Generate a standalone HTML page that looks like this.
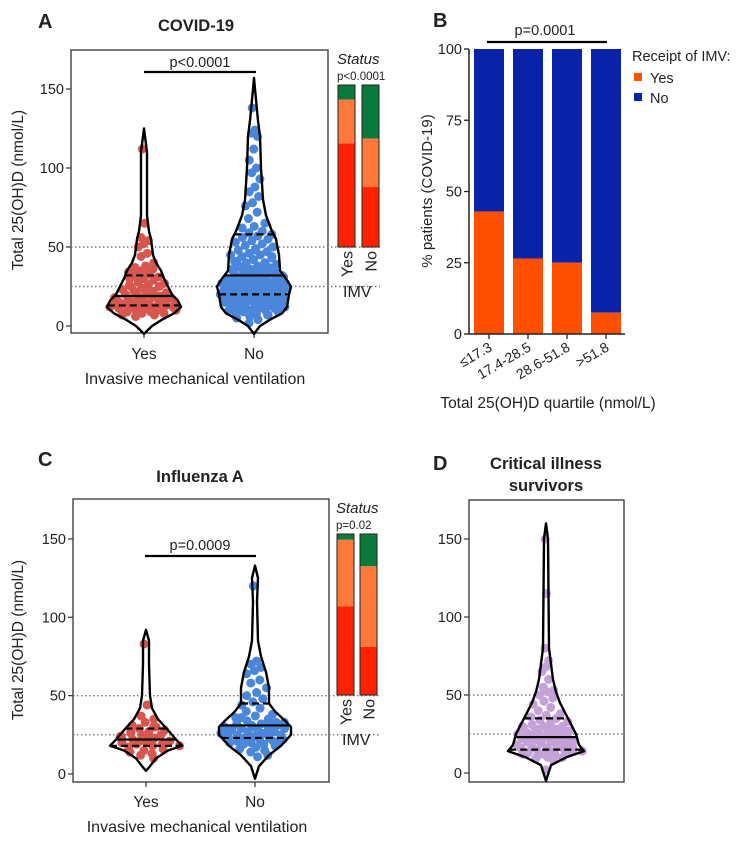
<!DOCTYPE html>
<html><head><meta charset="utf-8"><style>
body{margin:0;background:#fff}
svg{display:block;font-family:"Liberation Sans",Arial,sans-serif}
</style></head><body>
<svg id="fig" width="746" height="853" viewBox="0 0 746 853" xmlns="http://www.w3.org/2000/svg"></svg>
<script>
// ---- data ----
const aYesProfileV=[-5,0,4,8,12,16,20,25,30,35,40,45,50,55,60,70,110,125];
const aYesProfileW=[0,8,18,30,37,34,28,24,20,17,12,9,8,7,5,3,3,0];
const aNoProfileV=[-5,0,4,8,12,20,25,30,35,45,55,60,70,80,100,120,130,150,157];
const aNoProfileW=[0,6,16,28,33,35,37,32,26,25,22,18,12,9,7,6,4,1,0];
const cYesProfileV=[2,5,10,15,18,22,28,35,42,50,70,85,92];
const cYesProfileW=[0,4,10,22,36,30,22,12,6,4,3,3,0];
const cNoProfileV=[-3,5,12,18,25,30,34,40,45,55,65,75,85,110,125,133];
const cNoProfileW=[0,4,14,26,36,36,30,20,14,14,11,6,3,2,3,0];
const dProfileV=[-5,5,10,14,18,25,30,35,45,52,60,70,80,150,160];
const dProfileW=[0,5,20,38,33,30,26,22,14,10,7,5,3,2,0];
const aYesQuart=[13,19,32], aNoQuart=[20,32,58], cYesQuart=[18,22,29], cNoQuart=[23,31,45], dQuart=[15,23,35];
const aYesPts=[112,65,56,54,52,50,46,44,40,38,37,36,35,34,33,32,31,30,30,29,28,27,26,25,25,24,23,22,22,21,20,20,19,19,18,18,17,17,16,16,15,15,15,14,14,13,13,13,12,12,12,11,11,10,10,10,9,9,8,8,7,7,6,18,22,26,14,16,12,11];
const aNoPts=[138,124,122,120,112,105,100,97,93,88,85,82,78,76,72,68,65,63,62,60,59,58,57,56,55,54,53,52,51,50,49,48,47,46,45,45,44,43,42,41,40,40,39,38,38,37,36,36,35,35,34,34,33,33,32,32,31,31,30,30,30,29,29,28,28,28,27,27,27,26,26,26,25,25,25,24,24,24,23,23,23,22,22,22,21,21,21,20,20,20,19,19,19,18,18,18,17,17,17,16,16,16,15,15,15,14,14,14,13,13,12,12,11,11,10,10,10,9,9,8,8,7,6,5,4,2,44,42,36,33,29,27,25,23,21,19,17,15,13,11,48,41,37,34,31,28,26,24,22,20,18,16,14,12,9,7];
const cYesPts=[83,44,37,35,33,31,30,29,28,27,26,25,25,24,23,22,21,20,20,19,19,18,18,17,16,15,14,13,12,10,22,27,30,21,24];
const cNoPts=[120,72,70,68,66,64,60,58,55,52,50,48,46,44,42,40,38,37,36,35,34,33,32,32,31,31,30,30,29,29,28,28,27,27,26,26,25,25,24,24,23,23,22,22,21,21,20,20,19,19,18,17,16,15,14,12,11,36,33,30,28,25,22,20,26,29,31,24];
const dPts=[150,115,80,72,68,65,60,55,53,52,50,48,46,44,42,40,38,37,36,35,34,33,32,31,30,30,29,28,28,27,27,26,26,25,25,24,24,23,23,22,22,21,21,20,20,19,19,18,18,17,17,16,16,15,15,14,14,13,13,12,12,11,11,10,10,9,8,2,30,25,20,15,12,22,18,28];
const aStatusYes=[64,27,9], aStatusNo=[37,30,33], cStatusYes=[55,41.5,3.5], cStatusNo=[30,50,20];
const bCats=['≤17.3','17.4-28.5','28.6-51.8','>51.8'];
const bYes=[43,26.5,25,7.5];
const yTicks=[0,50,100,150];
const bTicks=[0,25,50,75,100];

const NS='http://www.w3.org/2000/svg';
const svg=document.getElementById('fig');
function el(tag,attrs,parent,txt){const e=document.createElementNS(NS,tag);for(const k in attrs)e.setAttribute(k,attrs[k]);if(txt!==undefined)e.textContent=txt;(parent||svg).appendChild(e);return e;}
function interp(vs,ws,v){if(v<=vs[0]||v>=vs[vs.length-1])return 0;for(let i=1;i<vs.length;i++){if(v<=vs[i]){const t=(v-vs[i-1])/(vs[i]-vs[i-1]);return ws[i-1]+t*(ws[i]-ws[i-1]);}}return 0;}

function violinPanel(o){
  const y=v=>o.y0-(v)*o.k;
  const g=el('g',{});
  
  
  const b=el('rect',{x:o.x1,y:o.top,width:o.x2-o.x1,height:o.bot-o.top,fill:'none',stroke:'#333','stroke-width':1.3},g);
  
  [25,50].forEach(v=>{const l=el('line',{x1:o.x1,x2:o.refEnd,y1:y(v),y2:y(v),stroke:'#777','stroke-width':1.4,'stroke-dasharray':'1.5 2.5'},g);
    });
  yTicks.forEach(t=>{el('line',{x1:o.x1-5,x2:o.x1,y1:y(t),y2:y(t),stroke:'#333','stroke-width':1.2},g);
    const tx=el('text',{x:o.x1-7,y:y(t)+5,'text-anchor':'end','font-size':14.5,fill:'#222'},g,String(t));
    });
  o.groups.forEach(gr=>{
    const vs=gr.pv,ws=gr.pw;
    if(gr.tick){el('line',{x1:gr.cx,x2:gr.cx,y1:o.bot,y2:o.bot+5,stroke:'#333','stroke-width':1.2},g);}
    gr.pts.forEach((v,i)=>{const w=Math.max(interp(vs,ws,v)-1,0);const f=((i*0.61803)%1)*2-1;
      const c=el('circle',{cx:gr.cx+f*w,cy:y(v),r:4.5,fill:gr.color},g);
      });
    let d='';const N=vs.length;
    for(let i=0;i<N;i++)d+=(i?'L':'M')+(gr.cx+ws[i])+' '+y(vs[i]);
    for(let i=N-1;i>=0;i--)d+='L'+(gr.cx-ws[i])+' '+y(vs[i]);
    const p=el('path',{d:d+'Z',fill:'none',stroke:'#000','stroke-width':2.4,'stroke-linejoin':'round'},g);
    
    gr.q.forEach((q,i)=>{const w=interp(vs,ws,q);const l=el('line',{x1:gr.cx-w,x2:gr.cx+w,y1:y(q),y2:y(q),stroke:'#000','stroke-width':2.2,'stroke-dasharray':i==1?'none':'7 4'},g);
      });
  });
}

function statusBars(o){
  const cols=['#ff2200','#ff7a3a','#0a7a3c'];
  [o.yes,o.no].forEach((arr,j)=>{let acc=0;const x=o.x[j];
    arr.forEach((p,i)=>{const h=(o.bot-o.top)*p/100;const r=el('rect',{x:x,y:o.bot-acc-h,width:o.w,height:h,fill:cols[i]});
      acc+=h;});
    el('rect',{x:x,y:o.top,width:o.w,height:o.bot-o.top,fill:'none',stroke:'#222','stroke-width':1});
    const t=el('text',{x:0,y:0,'font-size':16,fill:'#222','text-anchor':'end',transform:`translate(${x+o.w/2+6},${o.bot+4}) rotate(-90)`},svg,j?'No':'Yes');
    });
  const s=el('text',{x:o.x[0]-1,y:o.sy,'font-size':15,'font-style':'italic',fill:'#222'},svg,'Status');
  const p=el('text',{x:o.x[0]-1,y:o.sy+16,'font-size':11.5,fill:'#222'},svg,o.p);
  const m=el('text',{x:o.x[0]+5,y:o.iy,'font-size':16,fill:'#222'},svg,'IMV');
}

function txt(x,y,s,attrs,name){const t=el('text',Object.assign({x:x,y:y,fill:'#222'},attrs),svg,s);return t;}

// Panel A
violinPanel({name:'covid',x1:71,x2:328,top:50,bot:333,y0:326,k:1.58,refEnd:380,groups:[
 {cx:144,pv:aYesProfileV,pw:aYesProfileW,pts:aYesPts,q:aYesQuart,color:'#d9564e',tick:1},
 {cx:254,pv:aNoProfileV,pw:aNoProfileW,pts:aNoPts,q:aNoQuart,color:'#4a86da',tick:1}]});
statusBars({x:[338,362],w:17,top:85,bot:247,yes:aStatusYes,no:aStatusNo,sy:64,iy:297,p:'p<0.0001'});
txt(38,28,'A',{'font-size':20,'font-weight':'bold'},'panel-label-a');
txt(196,31,'COVID-19',{'font-size':16.5,'font-weight':'bold','text-anchor':'middle'},'panel-title-a');
el('line',{x1:144,x2:256,y1:72,y2:72,stroke:'#000','stroke-width':2.2});
txt(200,67,'p<0.0001',{'font-size':14.5,'text-anchor':'middle'},'p-value-a');
txt(144,359,'Yes',{'font-size':15.5,'text-anchor':'middle'},'x-tick-yes');
txt(254,359,'No',{'font-size':15.5,'text-anchor':'middle'},'x-tick-no');
txt(195,384,'Invasive mechanical ventilation',{'font-size':16,'text-anchor':'middle'},'x-axis-title-a');
txt(0,0,'Total 25(OH)D (nmol/L)',{'font-size':15.5,'text-anchor':'middle',transform:'translate(23,190) rotate(-90)'},'y-axis-title-a');

// Panel C
violinPanel({name:'influenza',x1:73,x2:329,top:499,bot:782,y0:774,k:1.567,refEnd:380,groups:[
 {cx:146,pv:cYesProfileV,pw:cYesProfileW,pts:cYesPts,q:cYesQuart,color:'#d9564e',tick:1},
 {cx:255,pv:cNoProfileV,pw:cNoProfileW,pts:cNoPts,q:cNoQuart,color:'#4a86da',tick:1}]});
statusBars({x:[337,360],w:17,top:534,bot:695,yes:cStatusYes,no:cStatusNo,sy:513,iy:745,p:'p=0.02'});
txt(38,466,'C',{'font-size':20,'font-weight':'bold'},'panel-label-c');
txt(200,482,'Influenza A',{'font-size':16.5,'font-weight':'bold','text-anchor':'middle'},'panel-title-c');
el('line',{x1:145,x2:256,y1:556,y2:556,stroke:'#000','stroke-width':2.2});
txt(200,550,'p=0.0009',{'font-size':14.5,'text-anchor':'middle'},'p-value-c');
txt(146,807,'Yes',{'font-size':15.5,'text-anchor':'middle'},'x-tick-yes');
txt(255,807,'No',{'font-size':15.5,'text-anchor':'middle'},'x-tick-no');
txt(197,832,'Invasive mechanical ventilation',{'font-size':16,'text-anchor':'middle'},'x-axis-title-c');
txt(0,0,'Total 25(OH)D (nmol/L)',{'font-size':15.5,'text-anchor':'middle',transform:'translate(23,640) rotate(-90)'},'y-axis-title-c');

// Panel D
violinPanel({name:'survivors',x1:469,x2:624,top:500,bot:782,y0:773,k:1.56,refEnd:624,groups:[
 {cx:546,pv:dProfileV,pw:dProfileW,pts:dPts,q:dQuart,color:'#c4a2d8',tick:0}]});
txt(433,470,'D',{'font-size':20,'font-weight':'bold'},'panel-label-d');
txt(546,469,'Critical illness',{'font-size':16.5,'font-weight':'bold','text-anchor':'middle'},'panel-title-d-line1');
txt(546,491,'survivors',{'font-size':16.5,'font-weight':'bold','text-anchor':'middle'},'panel-title-d-line2');

// Panel B
(function(){
  const x0=469,x1=625,yb=334,yt=49;
  const y=v=>yb-(yb-yt)*v/100;
  const bw=30,step=39,first=474;
  bCats.forEach((c,i)=>{const bx=first+i*step;
    const n=el('rect',{x:bx,y:yt,width:bw,height:y(bYes[i])-yt,fill:'#0a22a8'});
    const r=el('rect',{x:bx,y:y(bYes[i]),width:bw,height:yb-y(bYes[i]),fill:'#ff5000'});
    const cx=bx+bw/2;el('line',{x1:cx,x2:cx,y1:yb,y2:yb+5,stroke:'#222','stroke-width':1.3});
    txt(0,0,c,{'font-size':14,'text-anchor':'end',transform:`translate(${cx+4},${yb+16}) rotate(-30)`},'x-tick-label');
  });
  el('line',{x1:x0,x2:x0,y1:yt,y2:yb,stroke:'#222','stroke-width':1.5});
  el('line',{x1:x0,x2:x1,y1:yb,y2:yb,stroke:'#222','stroke-width':1.5});
  bTicks.forEach(t=>{el('line',{x1:x0-5,x2:x0,y1:y(t),y2:y(t),stroke:'#222','stroke-width':1.3});
    txt(x0-7,y(t)+5,String(t),{'font-size':14.5,'text-anchor':'end'},'y-tick-label');});
  txt(433,27,'B',{'font-size':20,'font-weight':'bold'},'panel-label-b');
  el('line',{x1:487,x2:607,y1:42,y2:42,stroke:'#000','stroke-width':2.2});
  txt(545,35,'p=0.0001',{'font-size':14.5,'text-anchor':'middle'},'p-value-b');
  txt(632,61,'Receipt of IMV:',{'font-size':14.5}, 'legend-title');
  el('rect',{x:634,y:73,width:8,height:8,fill:'#ff5000'});txt(650,83,'Yes',{'font-size':14.5},'legend-entry-yes');
  el('rect',{x:634,y:93,width:8,height:8,fill:'#0a22a8'});txt(650,103,'No',{'font-size':14.5},'legend-entry-no');
  txt(0,0,'% patients (COVID-19)',{'font-size':15,'text-anchor':'middle',transform:'translate(432,191) rotate(-90)'},'y-axis-title-b');
  txt(548,408,'Total 25(OH)D quartile (nmol/L)',{'font-size':15.5,'text-anchor':'middle'},'x-axis-title-b');
})();
</script>
</body></html>
